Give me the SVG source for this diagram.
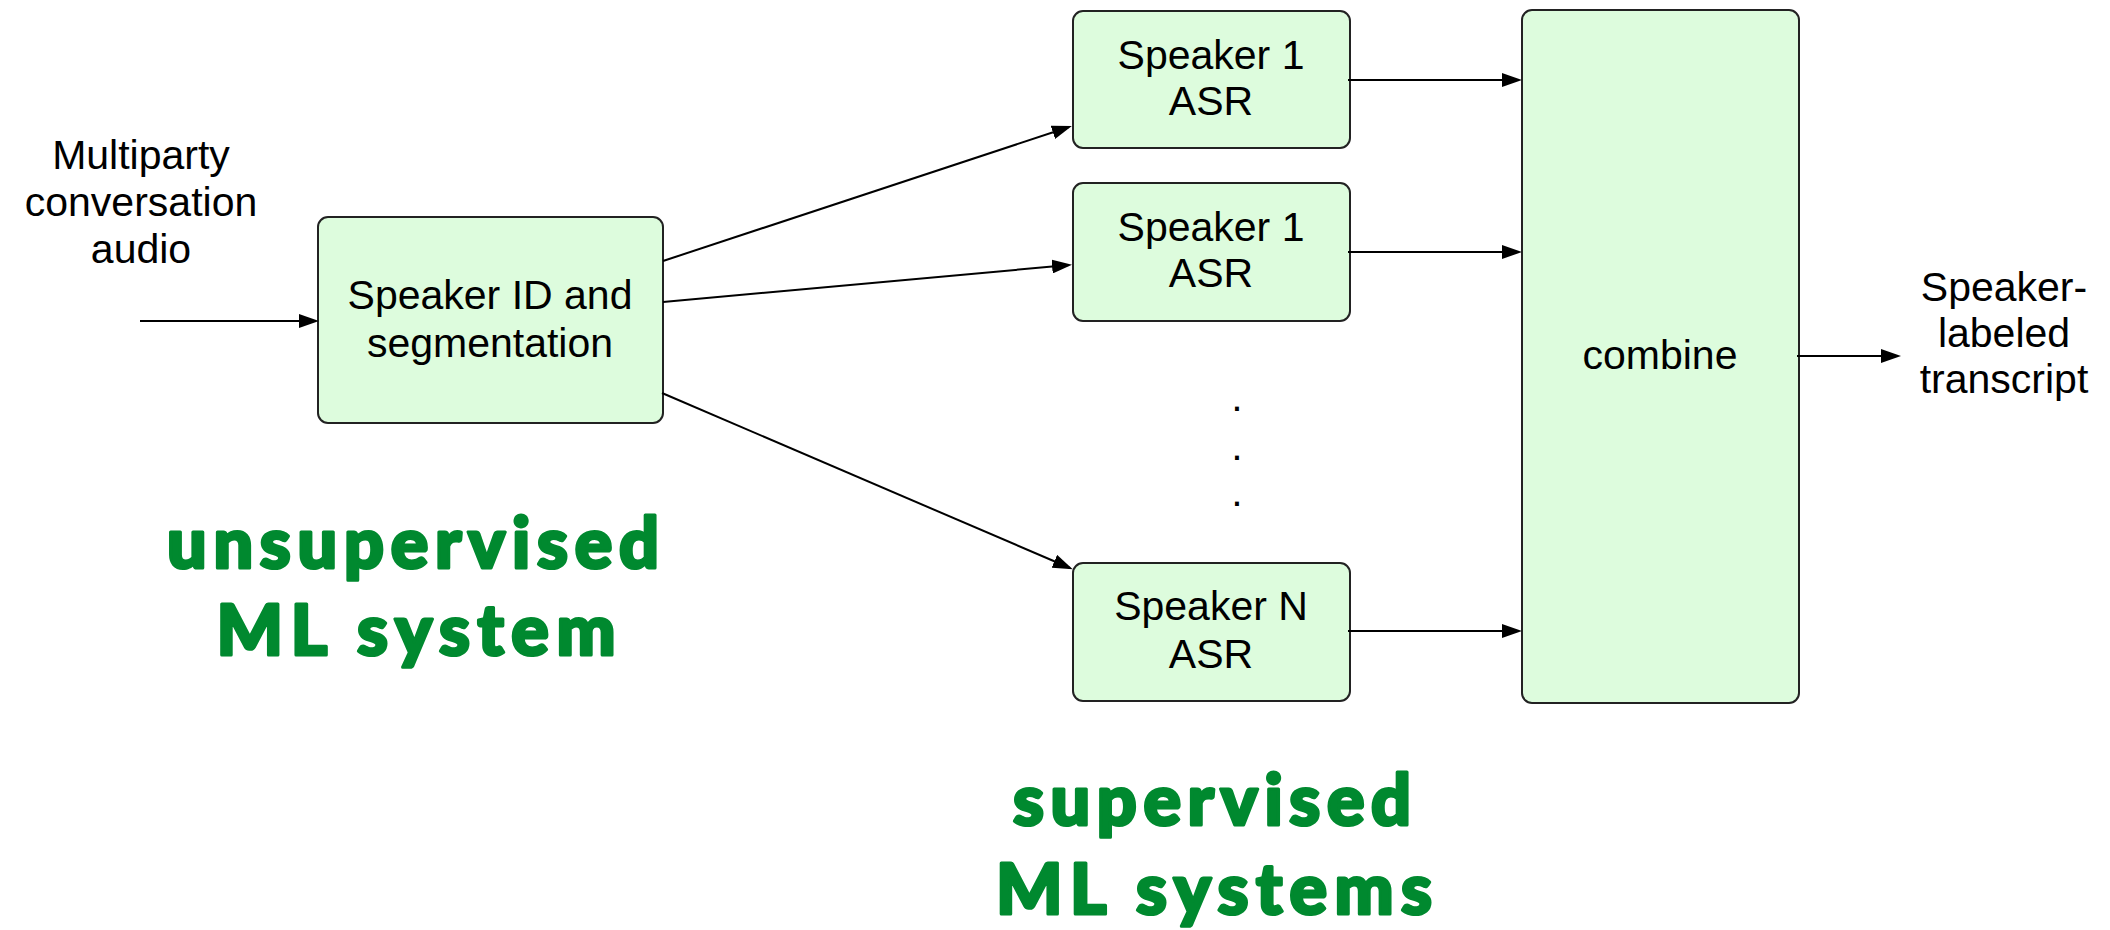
<svg xmlns="http://www.w3.org/2000/svg" width="2110" height="930" viewBox="0 0 2110 930">
  <defs>
    <style>
      .box { fill: #ddfcdd; stroke: #222222; stroke-width: 2; }
      .lbl { font-family: "Liberation Sans", Arial, Helvetica, sans-serif; font-size: 41px; fill: #000000; text-anchor: middle; }
      .tag { font-family: Lato, "Open Sans", "Liberation Sans", sans-serif; font-weight: 900; font-size: 70px; fill: #00892f; stroke: #00892f; stroke-width: 3.2; stroke-linejoin: round; text-anchor: middle; }
      .wire { stroke: #000000; stroke-width: 2; fill: none; marker-end: url(#arrow); }
    </style>
    <marker id="arrow" markerUnits="userSpaceOnUse" markerWidth="20" markerHeight="14" refX="17" refY="7" orient="auto">
      <path d="M0,0 L20,7 L0,14 Z" fill="#000000"/>
    </marker>
  </defs>

  <rect width="2110" height="930" fill="#ffffff"/>

  <!-- input label -->
  <g id="input-label">
    <text class="lbl" x="141" y="169">Multiparty</text>
    <text class="lbl" x="141" y="216">conversation</text>
    <text class="lbl" x="141" y="263">audio</text>
  </g>

  <!-- diarization stage -->
  <g id="speaker-id">
    <rect class="box" x="318" y="217" width="345" height="206" rx="10"/>
    <text class="lbl" x="490" y="309">Speaker ID and</text>
    <text class="lbl" x="490" y="357">segmentation</text>
  </g>

  <!-- per-speaker recognizers -->
  <g id="asr-1a">
    <rect class="box" x="1073" y="11" width="277" height="137" rx="10"/>
    <text class="lbl" x="1211" y="69">Speaker 1</text>
    <text class="lbl" x="1211" y="115">ASR</text>
  </g>
  <g id="asr-1b">
    <rect class="box" x="1073" y="183" width="277" height="138" rx="10"/>
    <text class="lbl" x="1211" y="241">Speaker 1</text>
    <text class="lbl" x="1211" y="287">ASR</text>
  </g>
  <g id="ellipsis">
    <text class="lbl" x="1237" y="411">.</text>
    <text class="lbl" x="1237" y="460">.</text>
    <text class="lbl" x="1237" y="506">.</text>
  </g>
  <g id="asr-n">
    <rect class="box" x="1073" y="563" width="277" height="138" rx="10"/>
    <text class="lbl" x="1211" y="620">Speaker N</text>
    <text class="lbl" x="1211" y="668">ASR</text>
  </g>

  <!-- merge stage -->
  <g id="combine">
    <rect class="box" x="1522" y="10" width="277" height="693" rx="10"/>
    <text class="lbl" x="1660" y="369">combine</text>
  </g>

  <g id="output-label">
    <text class="lbl" x="2004" y="301">Speaker-</text>
    <text class="lbl" x="2004" y="347">labeled</text>
    <text class="lbl" x="2004" y="393">transcript</text>
  </g>

  <!-- connectors -->
  <g id="connectors">
    <line class="wire" x1="140" y1="321" x2="316" y2="321"/>
    <line class="wire" x1="663" y1="261" x2="1069" y2="127"/>
    <line class="wire" x1="663" y1="302" x2="1069" y2="265"/>
    <line class="wire" x1="662" y1="393" x2="1070" y2="568"/>
    <line class="wire" x1="1348" y1="80" x2="1519" y2="80"/>
    <line class="wire" x1="1348" y1="252" x2="1519" y2="252"/>
    <line class="wire" x1="1348" y1="631" x2="1519" y2="631"/>
    <line class="wire" x1="1797" y1="356" x2="1898" y2="356"/>
  </g>

  <!-- category captions -->
  <g id="caption-unsupervised">
    <text class="tag" x="413" y="568" textLength="492" lengthAdjust="spacing">unsupervised</text>
    <text class="tag" x="416" y="655" textLength="399" lengthAdjust="spacing">ML system</text>
  </g>
  <g id="caption-supervised">
    <text class="tag" x="1212" y="825" textLength="398" lengthAdjust="spacing">supervised</text>
    <text class="tag" x="1214" y="914" textLength="436" lengthAdjust="spacing">ML systems</text>
  </g>
</svg>
